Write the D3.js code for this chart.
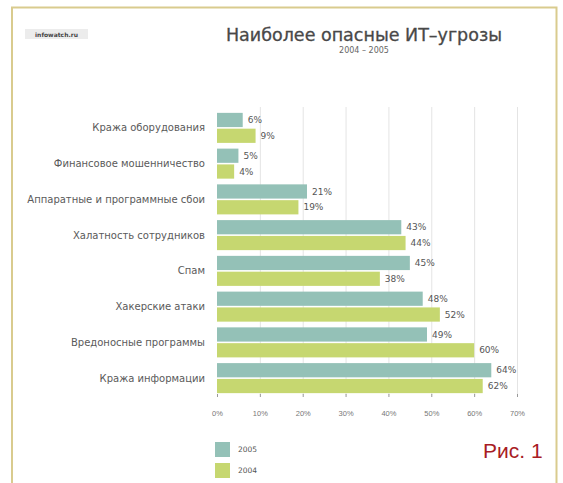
<!DOCTYPE html>
<html>
<head>
<meta charset="utf-8">
<title>Наиболее опасные ИТ-угрозы</title>
<script src="https://cdn.jsdelivr.net/npm/d3@7"></script>
<style>
  html, body { margin: 0; padding: 0; background: #fff; }
  svg { display: block; font-family: 'DejaVu Sans', sans-serif; }
  .grid line { stroke: #e4e4e4; }
  .grid path { display: none; }
  .xaxis path { display: none; }
  .xaxis line { stroke: #999; }
  .xaxis text { fill: #777; font-size: 7.5px; }
  .cat { fill: #5a5a5a; font-size: 10px; }
  .val { fill: #555; font-size: 9px; }
</style>
</head>
<body>
<script>
  var categories = [
    "Кража оборудования",
    "Финансовое мошенничество",
    "Аппаратные и программные сбои",
    "Халатность сотрудников",
    "Спам",
    "Хакерские атаки",
    "Вредоносные программы",
    "Кража информации"
  ];
  var series = ["2005", "2004"];
  var values2005 = [6, 5, 21, 43, 45, 48, 49, 64];
  var values2004 = [9, 4, 19, 44, 38, 52, 60, 62];
  var tickValues = [0, 10, 20, 30, 40, 50, 60, 70];
  var colors = { "2005": "#94c1b7", "2004": "#c6d770" };

  var width = 563, height = 483;

  var svg = d3.select("body").append("svg")
    .attr("width", width)
    .attr("height", height);

  // frame
  svg.append("path")
    .attr("d", "M12,490 L12,7.5 L556.5,7.5 L556.5,490")
    .attr("fill", "none")
    .attr("stroke", "#d9cb8e")
    .attr("stroke-width", 2);

  // logo
  svg.append("rect")
    .attr("x", 25).attr("y", 29).attr("width", 63).attr("height", 10)
    .attr("fill", "#ececec");
  svg.append("text")
    .attr("x", 56.5).attr("y", 36.5)
    .attr("text-anchor", "middle")
    .attr("font-size", 6)
    .attr("font-weight", "bold")
    .attr("fill", "#444")
    .text("infowatch.ru");

  // titles
  svg.append("text")
    .attr("x", 364).attr("y", 41)
    .attr("text-anchor", "middle")
    .attr("font-size", 17.5)
    .attr("fill", "#484848")
    .attr("stroke", "#484848")
    .attr("stroke-width", 0.3)
    .text("Наиболее опасные ИТ–угрозы");
  svg.append("text")
    .attr("x", 364).attr("y", 53)
    .attr("text-anchor", "middle")
    .attr("font-size", 8)
    .attr("fill", "#666")
    .text("2004 – 2005");

  var x = d3.scaleLinear().domain([0, 70]).range([217, 517]);

  var y = d3.scaleBand()
    .domain(categories)
    .range([110, 396])
    .paddingInner(0.16)
    .paddingOuter(0.08);

  var ySub = d3.scaleBand()
    .domain(series)
    .range([0, y.bandwidth()])
    .paddingInner(0.1);

  // gridlines
  svg.append("g")
    .attr("class", "grid")
    .attr("transform", "translate(0,395)")
    .call(d3.axisBottom(x).tickValues(tickValues.slice(1)).tickSize(-288).tickFormat(""));

  // x axis
  svg.append("g")
    .attr("class", "xaxis")
    .attr("transform", "translate(0,394)")
    .call(d3.axisBottom(x).tickValues(tickValues).tickSize(3).tickPadding(14)
      .tickFormat(function(d) { return d + "%"; }));

  var rows = categories.map(function(c, i) {
    return { cat: c, vals: [
      { s: "2005", v: values2005[i] },
      { s: "2004", v: values2004[i] }
    ] };
  });

  var groups = svg.append("g").selectAll("g")
    .data(rows)
    .join("g")
    .attr("transform", function(d) { return "translate(0," + y(d.cat) + ")"; });

  groups.selectAll("rect")
    .data(function(d) { return d.vals; })
    .join("rect")
    .attr("x", x(0))
    .attr("y", function(d) { return ySub(d.s); })
    .attr("width", function(d) { return x(d.v) - x(0); })
    .attr("height", ySub.bandwidth())
    .attr("fill", function(d) { return colors[d.s]; });

  groups.selectAll("text.val")
    .data(function(d) { return d.vals; })
    .join("text")
    .attr("class", "val")
    .attr("x", function(d) { return x(d.v) + 5; })
    .attr("y", function(d) { return ySub(d.s) + ySub.bandwidth() / 2; })
    .attr("dy", "0.35em")
    .text(function(d) { return d.v + "%"; });

  groups.append("text")
    .attr("class", "cat")
    .attr("x", 205)
    .attr("y", y.bandwidth() / 2)
    .attr("dy", "0.35em")
    .attr("text-anchor", "end")
    .text(function(d) { return d.cat; });

  // legend
  var legend = svg.append("g").selectAll("g")
    .data(series)
    .join("g")
    .attr("transform", function(d, i) { return "translate(215," + (442 + i * 21) + ")"; });
  legend.append("rect")
    .attr("width", 15).attr("height", 15)
    .attr("fill", function(d) { return colors[d]; });
  legend.append("text")
    .attr("x", 23).attr("y", 7.5).attr("dy", "0.35em")
    .attr("font-size", 7.5)
    .attr("fill", "#555")
    .text(function(d) { return d; });

  // figure label
  svg.append("text")
    .attr("x", 483).attr("y", 458)
    .attr("font-family", "'Liberation Sans', Arial, sans-serif")
    .attr("font-size", 21)
    .attr("fill", "#a81c24")
    .text("Рис. 1");
</script>
</body>
</html>
